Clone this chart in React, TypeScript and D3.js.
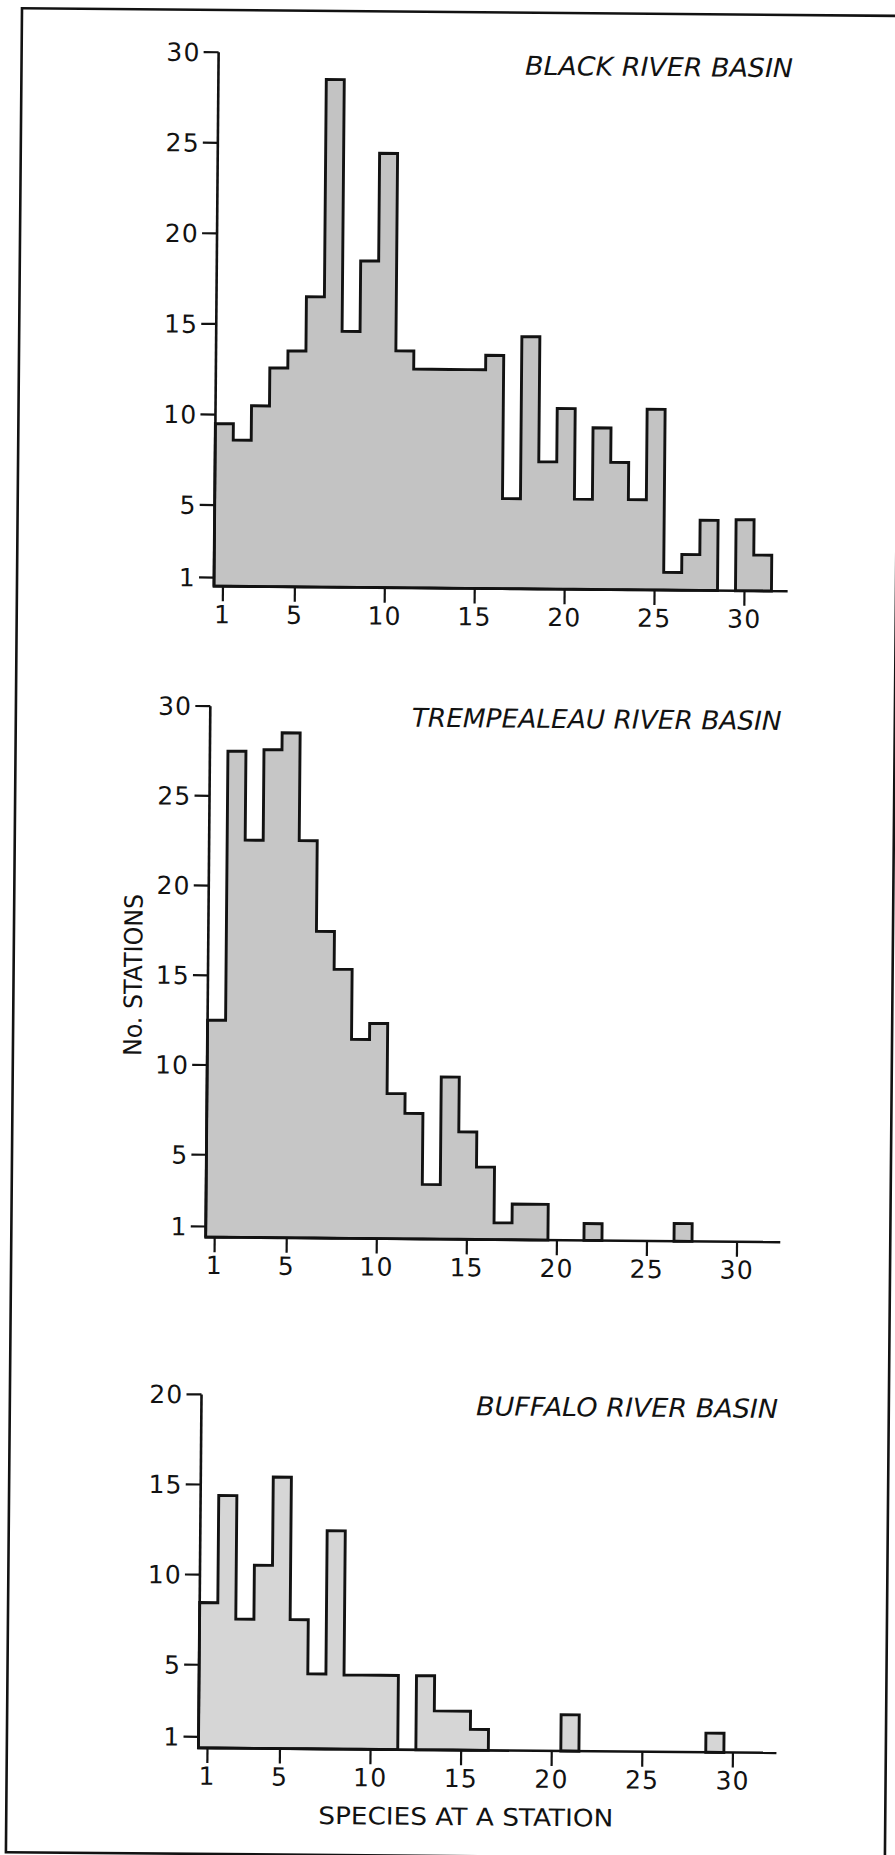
import React from 'react';
import * as d3 from 'd3';

// ---- data ----
const speciesBins = [1, 2, 3, 4, 5, 6, 7, 8, 9, 10, 11, 12, 13, 14, 15, 16, 17, 18, 19, 20, 21, 22, 23, 24, 25, 26, 27, 28, 29, 30, 31];

const blackRiverCounts = [9.5, 8.6, 10.5, 12.6, 13.55, 16.55, 28.55, 14.65, 18.55, 24.5, 13.6, 12.6, 12.6, 12.6, 12.6, 13.4, 5.5, 14.45, 7.55, 10.5, 5.5, 9.45, 7.55, 5.5, 10.5, 1.5, 2.5, 4.4, 0, 4.45, 2.5];

const trempealeauCounts = [12.5, 27.5, 22.55, 27.6, 28.55, 22.55, 17.5, 15.4, 11.5, 12.4, 8.5, 7.4, 3.45, 9.45, 6.4, 4.45, 1.35, 2.4, 2.4, 0, 0, 1.35, 0, 0, 0, 0, 1.4, 0, 0, 0, 0];

const buffaloCounts = [8.45, 14.4, 7.55, 10.55, 15.45, 7.55, 4.55, 12.5, 4.5, 4.5, 4.5, 0, 4.5, 2.55, 2.55, 1.55, 0, 0, 0, 0, 2.4, 0, 0, 0, 0, 0, 0, 0, 1.45, 0, 0];

const yTicksTall = [1, 5, 10, 15, 20, 25, 30];
const yTicksShort = [1, 5, 10, 15, 20];
const xTicks = [1, 5, 10, 15, 20, 25, 30];

const basinTitles = ['BLACK RIVER BASIN', 'TREMPEALEAU RIVER BASIN', 'BUFFALO RIVER BASIN'];
const yAxisLabel = 'No. STATIONS';
const xAxisLabel = 'SPECIES AT A STATION';

// ---- layout ----
const W = 895;
const H = 1855;
const FONT = '"DejaVu Sans", "Liberation Sans", sans-serif';
const INK = '#121212';

const layouts = [
  { xRange: [211, 768.5], yDomain: [0.525, 30], yRange: [588.2, 54.3], fill: '#c3c3c3', title: { x: 651.5, y: 74.2, w: 268 } },
  { xRange: [208.4, 766.8], yDomain: [0.41, 30], yRange: [1239.2, 708.2], fill: '#c6c6c6', title: { x: 594.9, y: 727, w: 370 } },
  { xRange: [205.6, 767.3], yDomain: [0.387, 20], yRange: [1750, 1396.55], fill: '#d6d6d6', title: { x: 631.2, y: 1415, w: 302 } },
];

const panelData = [
  { counts: blackRiverCounts, yTicks: yTicksTall, title: basinTitles[0] },
  { counts: trempealeauCounts, yTicks: yTicksTall, title: basinTitles[1] },
  { counts: buffaloCounts, yTicks: yTicksShort, title: basinTitles[2] },
];

type Bar = { s: number; c: number };

function Panel({ counts, yTicks, title, layout }: any) {
  const x = d3.scaleLinear().domain([0.5, 31.5]).range(layout.xRange);
  const y = d3.scaleLinear().domain(layout.yDomain).range(layout.yRange);
  const base = layout.yDomain[0];
  const yTop = yTicks[yTicks.length - 1];
  const axisX = x(0.5);
  const axisY = y(base);

  const runs: Bar[][] = [];
  let cur: Bar[] = [];
  speciesBins.forEach((s, i) => {
    const c = counts[i];
    if (c > 0) cur.push({ s, c });
    else if (cur.length) {
      runs.push(cur);
      cur = [];
    }
  });
  if (cur.length) runs.push(cur);

  const area = d3
    .area<Bar>()
    .x((d) => x(d.s - 0.5))
    .y0(axisY)
    .y1((d) => y(d.c))
    .curve(d3.curveStepAfter);

  return (
    <g>
      {runs.map((run, i) => {
        const last = run[run.length - 1];
        const pts = [...run, { s: last.s + 1, c: last.c }];
        return (
          <path
            key={i}
            d={area(pts) || ''}
            fill={layout.fill}
            stroke={INK}
            strokeWidth={2.9}
            strokeLinejoin="miter"
          />
        );
      })}
      {/* axes */}
      <line x1={axisX} x2={axisX} y1={axisY} y2={y(yTop)} stroke={INK} strokeWidth={2.6} />
      <line x1={axisX - 1} x2={x(32.4)} y1={axisY} y2={axisY} stroke={INK} strokeWidth={2.6} />
      {yTicks.map((t: number) => (
        <g key={'y' + t}>
          <line x1={axisX - 15} x2={axisX} y1={y(t)} y2={y(t)} stroke={INK} strokeWidth={2.2} />
          <text x={axisX - 18} y={y(t) + 9} textAnchor="end" fontFamily={FONT} fontSize={25} letterSpacing={1.2} fill={INK}>
            {t}
          </text>
        </g>
      ))}
      {xTicks.map((t) => (
        <g key={'x' + t}>
          <line x1={x(t)} x2={x(t)} y1={axisY} y2={axisY + 15} stroke={INK} strokeWidth={2.2} />
          <text x={x(t)} y={axisY + 37} textAnchor="middle" fontFamily={FONT} fontSize={25} letterSpacing={1.2} fill={INK}>
            {t}
          </text>
        </g>
      ))}
      <text
        x={layout.title.x}
        y={layout.title.y}
        textAnchor="middle"
        fontFamily={FONT}
        fontStyle="italic"
        fontSize={26}
        textLength={layout.title.w}
        lengthAdjust="spacingAndGlyphs"
        fill={INK}
      >
        {title}
      </text>
    </g>
  );
}

export default function App() {
  return (
    <svg
      width={W}
      height={H}
      viewBox={`0 0 ${W} ${H}`}
      style={{ position: 'absolute', left: 0, top: 0, display: 'block', background: '#fff' }}
    >
      <rect x={0} y={0} width={W} height={H} fill="#fff" />
      <g transform={`rotate(0.5 ${W / 2} ${H / 2})`}>
        <rect x={14} y={12} width={879} height={1844} fill="none" stroke={INK} strokeWidth={2.6} />
        {panelData.map((p, i) => (
          <Panel key={i} counts={p.counts} yTicks={p.yTicks} title={p.title} layout={layouts[i]} />
        ))}
        <text
          transform={`translate(142.4, 977.7) rotate(-90)`}
          textAnchor="middle"
          fontFamily={FONT}
          fontSize={25}
          textLength={162}
          lengthAdjust="spacingAndGlyphs"
          fill={INK}
        >
          {yAxisLabel}
        </text>
        <text
          x={473.5}
          y={1825}
          textAnchor="middle"
          fontFamily={FONT}
          fontSize={24}
          textLength={295}
          lengthAdjust="spacingAndGlyphs"
          fill={INK}
        >
          {xAxisLabel}
        </text>
      </g>
    </svg>
  );
}
